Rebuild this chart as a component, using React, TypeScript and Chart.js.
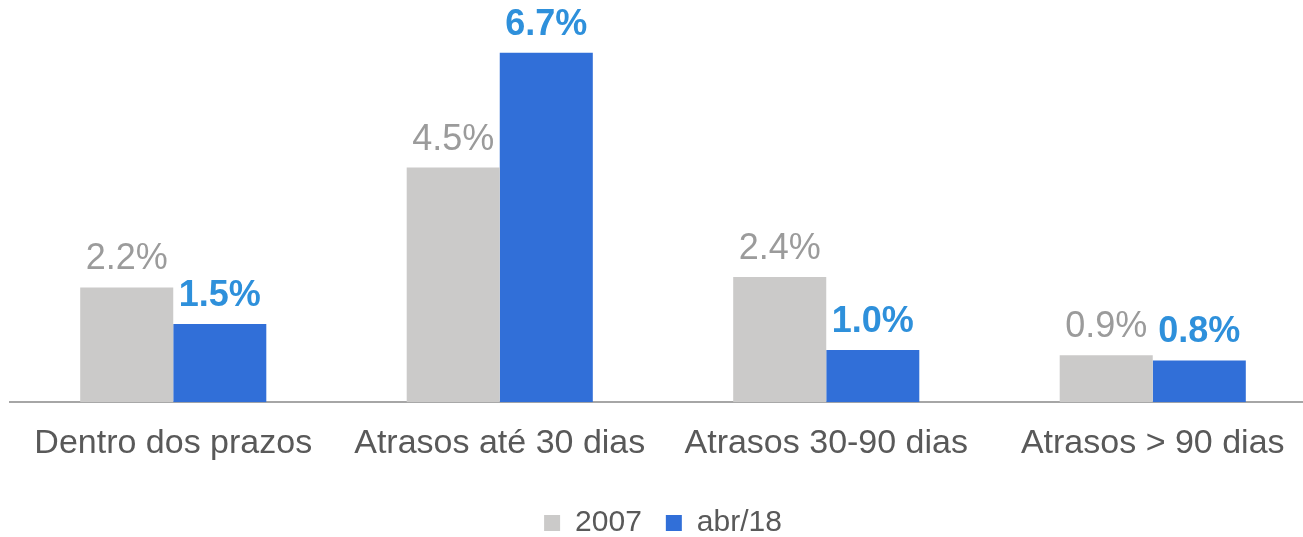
import React, { useEffect, useRef } from "react";
import { Chart, registerables } from "chart.js";

Chart.register(...registerables);

const categories = ["Dentro dos prazos", "Atrasos até 30 dias", "Atrasos 30-90 dias", "Atrasos > 90 dias"];
const series2007 = [2.2, 4.5, 2.4, 0.9];
const seriesAbr18 = [1.5, 6.7, 1.0, 0.8];
const seriesNames = ["2007", "abr/18"];

const FONT = "'Liberation Sans', Arial, Helvetica, sans-serif";

const valueLabels = {
  id: "valueLabels",
  afterDatasetsDraw(chart: any) {
    const ctx = chart.ctx;
    ctx.save();
    ctx.textAlign = "center";
    ctx.textBaseline = "alphabetic";
    chart.data.datasets.forEach((ds: any, di: number) => {
      const meta = chart.getDatasetMeta(di);
      meta.data.forEach((bar: any, i: number) => {
        const v = ds.data[i];
        if (di === 0) {
          ctx.font = `normal 36px ${FONT}`;
          ctx.fillStyle = "#9B9B9B";
        } else {
          ctx.font = `bold 36px ${FONT}`;
          ctx.fillStyle = "#2E90DB";
        }
        ctx.fillText(v.toFixed(1) + "%", bar.x, bar.y - 18);
      });
    });
    ctx.restore();
  },
};

export default function App() {
  const ref = useRef<HTMLCanvasElement | null>(null);
  useEffect(() => {
    if (!ref.current) return;
    const chart = new Chart(ref.current, {
      type: "bar",
      data: {
        labels: categories,
        datasets: [
          {
            label: seriesNames[0],
            data: series2007,
            backgroundColor: "#CBCAC9",
            barPercentage: 1,
            categoryPercentage: 0.57,
          },
          {
            label: seriesNames[1],
            data: seriesAbr18,
            backgroundColor: "#316FD8",
            barPercentage: 1,
            categoryPercentage: 0.57,
          },
        ],
      },
      options: {
        animation: false,
        responsive: false,
        maintainAspectRatio: false,
        layout: { padding: { top: 20, left: 10, right: 4, bottom: 0 } },
        plugins: {
          tooltip: { enabled: false },
          legend: {
            position: "bottom",
            labels: {
              boxWidth: 16,
              boxHeight: 16,
              padding: 24,
              color: "#595959",
              font: { family: FONT, size: 30 },
            },
          },
        },
        scales: {
          x: {
            grid: { display: false, drawTicks: false },
            border: { display: true, color: "#A6A6A6", width: 2 },
            ticks: {
              color: "#595959",
              padding: 21,
              font: { family: FONT, size: 34 },
              maxRotation: 0,
              autoSkip: false,
            },
            afterFit: (scale: any) => {
              scale.height -= 1;
            },
          },
          y: {
            display: false,
            min: 0,
            max: 7.33,
          },
        },
      },
      plugins: [valueLabels],
    });
    return () => chart.destroy();
  }, []);
  return (
    <div style={{ position: "absolute", left: 0, top: 0, width: 1303, height: 537, overflow: "hidden", background: "#fff" }}>
      <canvas ref={ref} width={1320} height={548} style={{ display: "block" }} />
    </div>
  );
}
